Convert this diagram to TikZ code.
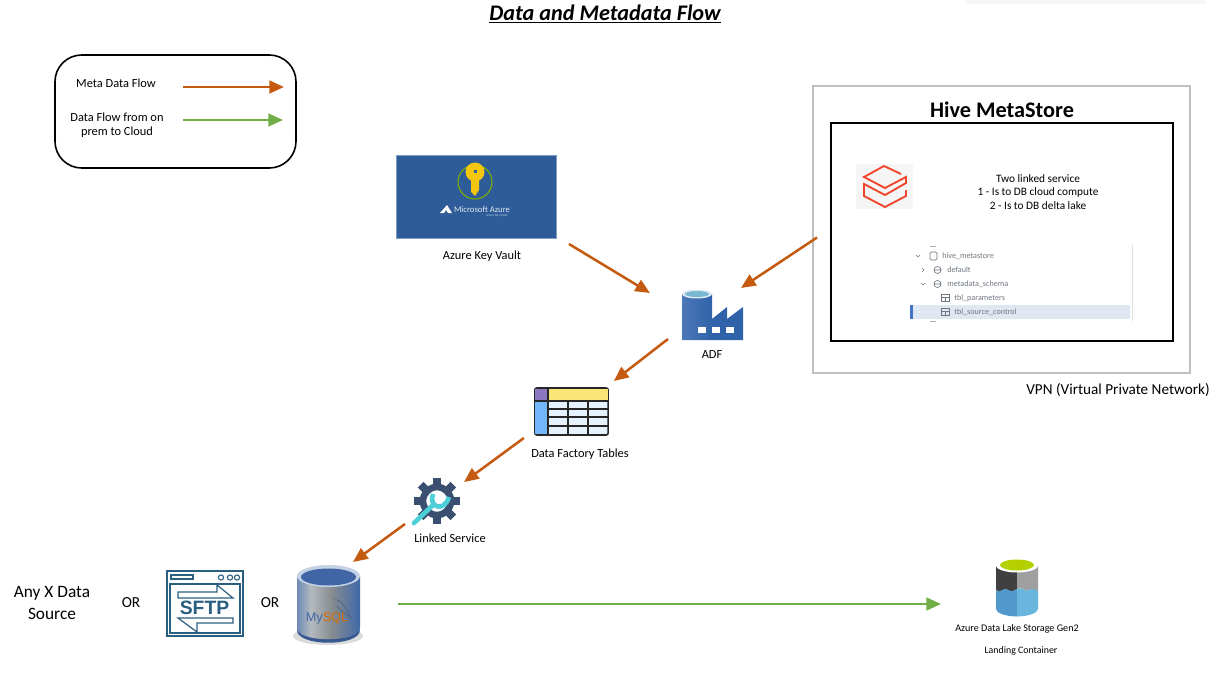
\documentclass[tikz,border=0pt]{standalone}
\usepackage{fontspec}
\setmainfont{Carlito}
\newfontfamily\arialfont{Liberation Sans}
\usetikzlibrary{arrows.meta}
\definecolor{metaorange}{HTML}{C55A11}
\definecolor{datagreen}{HTML}{70AD47}
\definecolor{azureblue}{HTML}{2E5C99}
\definecolor{adfblue}{HTML}{2F62A8}
\definecolor{sftpblue}{HTML}{2B5F80}
\definecolor{gearblue}{HTML}{3B5070}
\definecolor{wrenchcyan}{HTML}{4DD0D8}
\definecolor{dbred}{HTML}{F0452B}
\definecolor{treegray}{HTML}{6F7780}
\definecolor{rowblue}{HTML}{DFE7F2}
\definecolor{barblue}{HTML}{4472C4}
\definecolor{keyyellow}{HTML}{F5C60F}
\definecolor{ringgreen}{HTML}{7FB000}
\definecolor{tblyellow}{HTML}{F9E577}
\definecolor{tblpurple}{HTML}{8A78C0}
\definecolor{tblblue}{HTML}{74B6FB}
\definecolor{tblcell}{HTML}{E6F3FF}
\definecolor{sqlright}{HTML}{3F68A8}
\definecolor{sqlinner}{HTML}{4166A5}
\definecolor{lakedark}{HTML}{404040}
\definecolor{lakegray}{HTML}{9F9F9F}
\definecolor{lakeblue}{HTML}{5299CB}
\definecolor{lakesky}{HTML}{68B5DE}
\definecolor{lakelime}{HTML}{B4D000}
\pgfdeclarehorizontalshading{mysqlbody}{100bp}{rgb(0bp)=(.431,.541,.71); rgb(25bp)=(.431,.541,.71); rgb(36bp)=(.706,.729,.749); rgb(52bp)=(.533,.553,.565); rgb(75bp)=(.247,.408,.659); rgb(100bp)=(.247,.408,.659)}
\pgfdeclarehorizontalshading{adfbody}{100bp}{rgb(0bp)=(.3,.47,.72); rgb(25bp)=(.3,.47,.72); rgb(50bp)=(.184,.384,.659); rgb(100bp)=(.184,.384,.659)}
\tikzset{
  metaflow/.style={color=metaorange, line width=1.9pt, -{Triangle[length=11pt,width=9.5pt]}},
  dataflow/.style={color=datagreen, line width=1.9pt, -{Triangle[length=11pt,width=9.5pt]}},
  lbl/.style={font=\fontsize{9.3}{10.8}\selectfont, align=center, inner sep=0pt, text=black},
  biglbl/.style={font=\fontsize{13}{16}\selectfont, align=center, inner sep=0pt},
  treelbl/.style={font=\fontsize{6.1}{8}\selectfont, anchor=west, inner sep=0pt, text=treegray},
  iconbox/.style={inner sep=0pt, outer sep=0pt}
}
\begin{document}
\begin{tikzpicture}[x=0.75pt, y=-0.75pt]
  \useasboundingbox (0,0) rectangle (1223,678);
  %% title
  \fill[black!3] (965,0) rectangle (1205,4);
  \node[iconbox, font=\fontsize{16.7}{18}\selectfont\bfseries\itshape] (title) at (605,14) {\underline{Data and Metadata Flow}};
  %% legend
  \node[draw, line width=1.2pt, rounded corners=20pt, minimum width=180.75pt, minimum height=84.75pt, iconbox] (legend) at (175.5,111.5) {};
  \node[lbl] (metatxt) at (116,83.5) {Meta Data Flow};
  \node[lbl] (datatxt) at (117,125) {Data Flow from on\\prem to Cloud};
  \coordinate (metaa) at (183,87);
  \coordinate (metab) at (284,87);
  \coordinate (dataa) at (183,120);
  \coordinate (datab) at (283,120);
  \draw[metaflow] (metaa) -- (metab);
  \draw[dataflow] (dataa) -- (datab);
  %% key vault
  \node[iconbox, fill=azureblue, draw=azureblue!60, minimum width=120pt, minimum height=62.25pt] (vault) at (476,196.5) {};
  \draw[ringgreen, line width=0.8pt] (475,182) circle[radius=17];
  \fill[keyyellow] (475,172) circle[radius=9.5];
  \fill[keyyellow] (471,178) -- (479,178) -- (479,190) -- (475,196) -- (471,192) -- cycle;
  \fill[azureblue] (474,170) rectangle (477,173);
  \fill[white] (440,213) -- (447,205) -- (452,213) -- (448,213) -- (446,210) -- (444,213) -- cycle;
  \node[iconbox, text=white!85!azureblue, font=\fontsize{6.5}{7}\selectfont] (azuretxt) at (482,210) {Microsoft Azure};
  \node[iconbox, text=white!70!azureblue, font=\fontsize{2.5}{3}\selectfont] (azuresub) at (497,216) {Azure Key Vault};
  \node[lbl] (vaulttxt) at (482,256) {Azure Key Vault};
  %% adf
  \node[iconbox, minimum width=46.5pt, minimum height=37.5pt] (adf) at (712,315) {};
  \shade[shading=adfbody] (682,294) -- (682,340) -- (743,340) -- (743,307) -- (727,319) -- (727,307) -- (712,319) -- (712,294) -- cycle;
  \fill[white!85!adfblue] (697,294) ellipse[x radius=15, y radius=4.5];
  \fill[wrenchcyan!50!adfblue!70!white] (697,294) ellipse[x radius=12, y radius=3];
  \foreach \wx in {698,712,726} {
    \fill[white] (\wx,327) rectangle (\wx+8,333);
  }
  \node[lbl] (adftxt) at (712,355) {ADF};
  %% hive metastore
  \node[iconbox, draw=black!25, line width=1.4pt, minimum width=282.75pt, minimum height=215.25pt] (hive) at (1001.5,229.5) {};
  \node[iconbox, draw=black, line width=1.4pt, minimum width=256.5pt, minimum height=163.5pt] (hiveinner) at (1002,232) {};
  \node[iconbox, font=\fontsize{16.7}{18}\selectfont\bfseries] (hivetxt) at (1002,110) {Hive MetaStore};
  \fill[black!4] (856,164) rectangle (913,209);
  \draw[dbred, line width=1.4pt] (901,174) -- (884,166) -- (864,177) -- (885,188) -- (906,177) -- (906,183) -- (885,195) -- (864,184) -- (864,196) -- (885,207) -- (906,196) -- (906,190);
  \node[lbl, font=\fontsize{8.5}{10.2}\selectfont] (linktxt) at (1038,192) {Two linked service\\1 - Is to DB cloud compute\\2 - Is to DB delta lake};
  %% tree of tables
  \fill[rowblue] (913,305) rectangle (1130,319);
  \fill[barblue] (910,305) rectangle (913,319);
  \draw[black!12] (1132,245) -- (1132,321);
  \draw[black!30, line width=0.5pt] (930,246) -- (936,246) (930,321) -- (936,321);
  \node[treelbl] (metastore) at (942,256) {hive\_metastore};
  \node[treelbl] (default) at (947,270) {default};
  \node[treelbl] (schema) at (947,284) {metadata\_schema};
  \node[treelbl] (params) at (954,298) {tbl\_parameters};
  \node[treelbl] (control) at (954,312) {tbl\_source\_control};
  \draw[treegray, line width=0.5pt] (916,255) -- (918,257) -- (920,255) (922,268) -- (924,270) -- (922,272) (921,283) -- (923,285) -- (925,283);
  \draw[treegray, line width=0.5pt, rounded corners=1pt] (930,252) rectangle (937,260);
  \foreach \ty in {270,284} {
    \draw[treegray, line width=0.5pt] (937.5,\ty) ellipse[x radius=3.5, y radius=3.5] (934,\ty) -- (941,\ty);
  }
  \foreach \ty in {298,312} {
    \draw[treegray, line width=0.5pt] (941,\ty-3.5) rectangle (949,\ty+3.5) (941,\ty-1) -- (949,\ty-1) (945,\ty-1) -- (945,\ty+3.5);
  }
  \node[lbl, font=\fontsize{11.4}{13}\selectfont] (vpntxt) at (1118,390) {VPN (Virtual Private Network)};
  %% data factory tables
  \node[iconbox, draw=black!85, line width=1.2pt, rounded corners=1.5pt, fill=tblcell, minimum width=55pt, minimum height=35.25pt] (tables) at (571.5,411.5) {};
  \fill[tblyellow] (548,389) rectangle (608,400);
  \fill[tblpurple] (535,389) rectangle (548,400);
  \fill[tblblue] (535,402) rectangle (548,434);
  \draw[black!85, line width=1.2pt] (535,401) -- (608,401) (548,388) -- (548,435) (568,401) -- (568,435) (588,401) -- (588,435) (548,409) -- (608,409) (548,417) -- (608,417) (548,426) -- (608,426);
  \node[lbl] (tablestxt) at (580,454) {Data Factory Tables};
  %% linked service
  \node[iconbox, minimum width=34.5pt, minimum height=34.5pt] (linked) at (437,501) {};
  \foreach \ang in {0,45,...,315} {
    \fill[gearblue, rotate around={\ang:(437,501)}] (433,478) rectangle (441,486);
  }
  \draw[gearblue, line width=5pt] (437,501) circle[radius=14];
  \draw[wrenchcyan, line width=3.5pt, line cap=round] (414,523) -- (432,506);
  \draw[wrenchcyan, line width=3.5pt] (433,494) .. controls (428,507) and (444,513) .. (449,497);
  \node[lbl] (linkedtxt) at (450,538) {Linked Service};
  %% sources
  \node[biglbl] (anytxt) at (52,603) {Any X Data\\Source};
  \node[lbl, font=\fontsize{11.5}{13}\selectfont] (ora) at (131,603) {OR};
  \node[lbl, font=\fontsize{11.5}{13}\selectfont] (orb) at (270,603) {OR};
  \node[iconbox, draw=sftpblue, line width=1.1pt, minimum width=57pt, minimum height=48.75pt] (sftp) at (205,603.5) {};
  \draw[sftpblue, line width=0.9pt] (170,584) rectangle (240,633);
  \draw[sftpblue, line width=0.8pt] (171,575) rectangle (193,579);
  \foreach \bx in {221,230,237} {
    \draw[sftpblue, line width=0.8pt] (\bx,577.5) circle[radius=2.6];
  }
  \draw[sftpblue, line width=0.9pt] (178,592) -- (217,592) -- (217,585) -- (233,598) -- (178,598) -- cycle;
  \draw[sftpblue, line width=0.9pt] (178,618) -- (233,618) -- (233,623) -- (197,623) -- (197,632) -- cycle;
  \node[iconbox, text=sftpblue, font=\fontsize{14.5}{15}\selectfont\bfseries\arialfont] (sftptxt) at (204.5,608) {SFTP};
  \fill[black!14] (328,636) ellipse[x radius=35, y radius=9];
  \node[iconbox, minimum width=47.25pt, minimum height=57.75pt] (mysql) at (328.5,603.5) {};
  \fill[sqlright!85!black] (297,630) .. controls (297,647) and (360,647) .. (360,630) -- cycle;
  \shade[shading=mysqlbody] (297,576) -- (297,628) .. controls (297,643) and (360,643) .. (360,628) -- (360,576) -- cycle;
  \fill[white!70!sqlright] (328.5,576) ellipse[x radius=31.5, y radius=11];
  \fill[sqlinner] (328.5,577) ellipse[x radius=27.5, y radius=8.5];
  \draw[gearblue!70!gray, line width=0.4pt] (334,600) .. controls (340,598) and (346,607) .. (351,618) .. controls (346,613) and (340,612) .. (337,606);
  \node[iconbox, font=\fontsize{9.5}{10}\selectfont\arialfont] (mysqltxt) at (327,618) {\textcolor{sqlinner}{My}\textcolor{orange!85!black}{SQL}};
  %% data lake
  \node[iconbox, minimum width=31.5pt, minimum height=43.5pt] (lake) at (1017,587) {};
  \fill[lakedark] (996,565) -- (996,590) .. controls (1002,594) and (1004,586) .. (1008,590) .. controls (1012,593) and (1014,590) .. (1017,589) -- (1017,565) -- cycle;
  \fill[lakegray] (1017,565) -- (1017,589) .. controls (1022,586) and (1025,593) .. (1029,590) .. controls (1032,587) and (1035,590) .. (1038,591) -- (1038,565) -- cycle;
  \fill[lakeblue] (996,590) .. controls (1002,594) and (1004,586) .. (1008,590) .. controls (1012,593) and (1014,590) .. (1017,589) -- (1017,616.5) .. controls (1006,616.5) and (996,613) .. (996,609) -- cycle;
  \fill[lakesky] (1017,589) .. controls (1022,586) and (1025,593) .. (1029,590) .. controls (1032,587) and (1035,590) .. (1038,591) -- (1038,609) .. controls (1038,613) and (1028,616.5) .. (1017,616.5) -- cycle;
  \fill[white] (1017,565) ellipse[x radius=21.5, y radius=7.5];
  \fill[lakelime] (1017,565) ellipse[x radius=17, y radius=5.5];
  \node[lbl, font=\fontsize{7.6}{9}\selectfont] (laketxt) at (1017,629) {Azure Data Lake Storage Gen2};
  \node[lbl, font=\fontsize{7.4}{9}\selectfont] (landtxt) at (1021,651) {Landing Container};
  %% flows
  \draw[metaflow] ([shift={(13,6)}]vault.south east) -- ([shift={(-31,3)}]adf.north west);
  \draw[metaflow] ([shift={(4,8)}]hive.west) -- ([shift={(-2,-2)}]adf.north east);
  \draw[metaflow] ([shift={(-13,-1)}]adf.south west) -- ([shift={(79,-7)}]tables.north west);
  \draw[metaflow] ([shift={(-11,3)}]tables.south west) -- ([shift={(50,4)}]linked.north west);
  \draw[metaflow] ([shift={(-9,23)}]linked.west) -- ([shift={(56,-3)}]mysql.north west);
  \draw[dataflow] ([shift={(38,0.5)}]mysql.east) -- ([shift={(-55,17)}]lake.west);
\end{tikzpicture}
\end{document}
